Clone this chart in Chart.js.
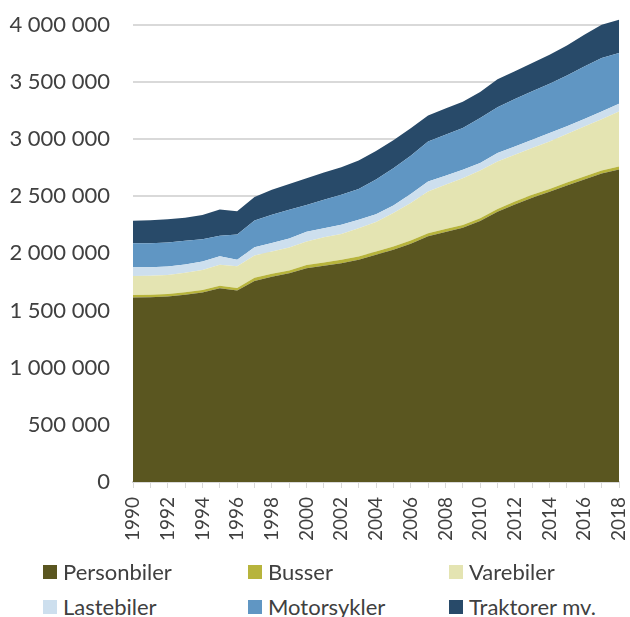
<!DOCTYPE html>
<html>
<head>
<meta charset="utf-8">
<script src="https://cdn.jsdelivr.net/npm/chart.js@4.4.1/dist/chart.umd.min.js"></script>
<style>
    body { margin: 0; background: #fff; }
    #wrap { position: relative; width: 630px; height: 617px; overflow: hidden; }
    #legend {
        position: absolute; left: 0; top: 560px; width: 630px;
        font-family: Lato, sans-serif; font-size: 22px; color: #404040;
    }
    .item { position: absolute; display: flex; align-items: center; white-space: nowrap; }
    .box { width: 14px; height: 14px; margin-right: 6px; }
</style>
</head>
<body>
<div id="wrap">
    <canvas id="myChart" width="630" height="560"></canvas>
    <div id="legend"></div>
</div>
<script>
const years = [1990, 1991, 1992, 1993, 1994, 1995, 1996, 1997, 1998, 1999,
    2000, 2001, 2002, 2003, 2004, 2005, 2006, 2007, 2008, 2009,
    2010, 2011, 2012, 2013, 2014, 2015, 2016, 2017, 2018];

// antall kjøretøy (estimert fra figuren)
const personbiler = [1613000, 1615000, 1622000, 1637000, 1657000, 1695000, 1675000, 1758000, 1795000, 1825000,
    1870000, 1891000, 1914000, 1943000, 1987000, 2031000, 2083000, 2150000, 2186000, 2223000,
    2282000, 2363000, 2427000, 2486000, 2538000, 2594000, 2646000, 2698000, 2734000];
const busser = [23000, 23000, 23000, 23000, 23000, 22000, 22000, 28000, 26000, 26000,
    29000, 29000, 29000, 29000, 29000, 29000, 29000, 26000, 26000, 26000,
    26000, 26000, 26000, 26000, 26000, 26000, 26000, 26000, 26000];
const varebiler = [166000, 166000, 166000, 170000, 175000, 184000, 190000, 195000, 195000, 200000,
    205000, 220000, 227000, 248000, 259000, 292000, 328000, 364000, 388000, 409000,
    417000, 414000, 409000, 409000, 414000, 424000, 438000, 450000, 481000];
const lastebiler = [76000, 75000, 73000, 73000, 73000, 73000, 58000, 73000, 74000, 80000,
    86000, 80000, 80000, 73000, 68000, 66000, 80000, 88000, 79000, 73000,
    65000, 74000, 73000, 73000, 74000, 67000, 65000, 67000, 67000];
const motorsykler = [210000, 210000, 210000, 208000, 195000, 181000, 219000, 234000, 247000, 250000,
    234000, 248000, 262000, 269000, 302000, 327000, 333000, 350000, 359000, 365000,
    394000, 401000, 415000, 423000, 432000, 444000, 460000, 467000, 444000];
const traktorer = [198000, 200000, 204000, 200000, 213000, 228000, 204000, 204000, 219000, 225000,
    234000, 239000, 242000, 250000, 250000, 245000, 242000, 228000, 230000, 230000,
    228000, 245000, 242000, 249000, 254000, 263000, 277000, 291000, 291000];

const yTickValues = [0, 500000, 1000000, 1500000, 2000000, 2500000, 3000000, 3500000, 4000000];

const seriesNames = ['Personbiler', 'Busser', 'Varebiler', 'Lastebiler', 'Motorsykler', 'Traktorer mv.'];
const seriesData = [personbiler, busser, varebiler, lastebiler, motorsykler, traktorer];
const seriesColors = ['#5a5620', '#b7b43c', '#e4e4b2', '#cddfee', '#6096c3', '#284a69'];

const fontFamily = 'Lato, sans-serif';
const textColor = '#404040';
const gridColor = '#d9d9d9';

function formatNumber(value) {
    return String(value).replace(/\B(?=(\d{3})+(?!\d))/g, ' ');
}

let datasets = seriesNames.map((name, i) => ({
    label: name,
    data: seriesData[i],
    backgroundColor: seriesColors[i],
    borderColor: seriesColors[i],
    borderWidth: 0,
    pointRadius: 0,
    tension: 0,
    fill: i === 0 ? 'origin' : '-1'
}));

let ctx = document.getElementById('myChart').getContext('2d');
let myChart = new Chart(ctx, {
    type: 'line',
    data: {
        labels: years.map(String),
        datasets: datasets
    },
    options: {
        responsive: false,
        animation: false,
        devicePixelRatio: 1,
        layout: {
            padding: { top: 19, right: 11, left: 0, bottom: 0 }
        },
        plugins: {
            legend: { display: false },
            tooltip: { enabled: false }
        },
        scales: {
            x: {
                afterFit: scale => {
                    scale.height = 78;
                    scale.paddingLeft = 0;
                    scale.paddingRight = 0;
                },
                grid: {
                    drawOnChartArea: false,
                    drawTicks: true,
                    tickLength: 6,
                    color: gridColor,
                    lineWidth: 1
                },
                border: { color: gridColor, width: 2 },
                ticks: {
                    autoSkip: false,
                    maxRotation: 90,
                    minRotation: 90,
                    padding: 9,
                    color: textColor,
                    font: { family: fontFamily, size: 19 },
                    callback: function (value, index) {
                        return index % 2 === 0 ? this.getLabelForValue(value) : '';
                    }
                }
            },
            y: {
                stacked: true,
                min: 0,
                max: 4050000,
                afterBuildTicks: scale => {
                    scale.ticks = yTickValues.map(v => ({ value: v }));
                },
                afterFit: scale => {
                    scale.width = 133;
                    scale.paddingTop = 0;
                    scale.paddingBottom = 0;
                },
                grid: {
                    color: gridColor,
                    lineWidth: 2,
                    drawTicks: false
                },
                border: { display: false },
                ticks: {
                    padding: 23,
                    color: textColor,
                    font: { family: fontFamily, size: 22 },
                    callback: value => formatNumber(value)
                }
            }
        }
    }
});

// legend in three columns, like the original
let legendPositions = [[43, -2], [248, -2], [449, -2], [43, 33], [248, 33], [449, 33]];
let legend = document.getElementById('legend');
myChart.data.datasets.forEach((ds, i) => {
    let item = document.createElement('div');
    item.className = 'item';
    item.style.left = legendPositions[i][0] + 'px';
    item.style.top = legendPositions[i][1] + 'px';
    item.innerHTML = `<span class="box" style="background:${ds.backgroundColor}"></span><span>${ds.label}</span>`;
    legend.appendChild(item);
});
</script>
</body>
</html>
